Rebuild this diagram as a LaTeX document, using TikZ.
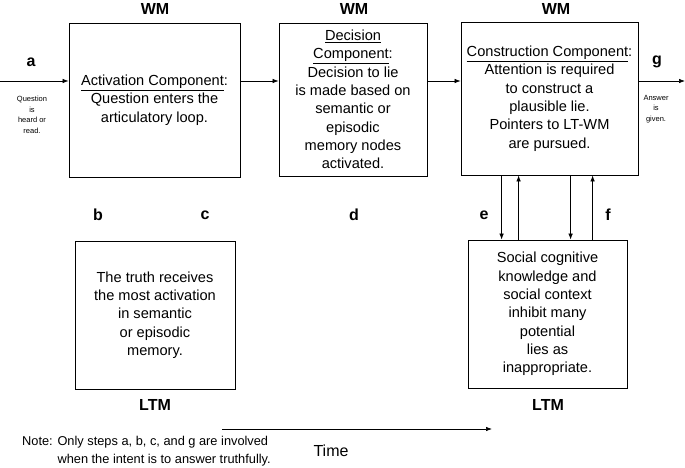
\documentclass[tikz,border=0pt]{standalone}
\usepackage{fontspec}
\setmainfont{Liberation Sans}
\usetikzlibrary{arrows.meta,positioning}

\begin{document}
\begin{tikzpicture}[
    x=1pt, y=1pt,
    box/.style={rectangle, draw, line width=0.8pt, inner sep=0pt, align=center, font=\fontsize{14.6}{18.3}\selectfont},
    tag/.style={font=\fontsize{16}{18}\selectfont\bfseries},
    tiny/.style={align=center, font=\fontsize{7.5}{10.5}\selectfont},
    arrow/.style={-{Latex[length=6pt,width=4.5pt]}, line width=0.7pt}
]
\useasboundingbox (0,0) rectangle (685,-468);

% Working memory row
\node[tag] (wm1) at (155,-9) {WM};
\node[tag] (wm2) at (354,-9) {WM};
\node[tag] (wm3) at (556,-9) {WM};
\node[box, minimum width=171pt, minimum height=154pt] (act) at (154.5,-100) {\underline{Activation Component}:\\Question enters the\\articulatory loop.};
\node[box, minimum width=148pt, minimum height=153pt] (dec) at (353,-99.5) {\underline{Decision}\\\underline{Component}:\\Decision to lie\\is made based on\\semantic or\\episodic\\memory nodes\\activated.};
\node[box, minimum width=177pt, minimum height=153pt] (cons) at (549.5,-98.5) {\underline{Construction Component}:\\Attention is required\\to construct a\\plausible lie.\\Pointers to LT-WM\\are pursued.};

% Input and output
\coordinate (in) at (0,-81);
\coordinate (out) at (685,-81);
\node[tag] (a) at (31,-62) {a};
\node[tiny] (heard) at (32,-115) {Question\\is\\heard or\\read.};
\node[tag] (g) at (657,-62) {g};
\node[tiny] (given) at (656,-109) {Answer\\is\\given.};
\draw[arrow] (in) -- (in -| act.west);
\draw[arrow] (act.east |- in) -- (dec.west |- in);
\draw[arrow] (dec.east |- in) -- (cons.west |- in);
\draw[arrow] (cons.east |- out) -- (out);

% Long-term memory row
\node[tag] (b) at (98,-215) {b};
\node[tag] (c) at (205,-215) {c};
\node[tag] (d) at (354,-215) {d};
\node[tag] (e) at (484,-215) {e};
\node[tag] (f) at (608,-215) {f};
\node[box, minimum width=160pt, minimum height=148pt] (truth) at (155,-315) {The truth receives\\the most activation\\in semantic\\or episodic\\memory.};
\node[box, minimum width=159pt, minimum height=148pt] (social) at (547.5,-314) {Social cognitive\\knowledge and\\social context\\inhibit many\\potential\\lies as\\inappropriate.};
\node[tag] (ltm1) at (155,-405) {LTM};
\node[tag] (ltm2) at (548,-405) {LTM};

% Links between construction and social knowledge
\draw[arrow] ([xshift=41pt]cons.south west) -- ([xshift=34pt]social.north west);
\draw[arrow] ([xshift=51pt]social.north west) -- ([xshift=58pt]cons.south west);
\draw[arrow] ([xshift=110pt]cons.south west) -- ([xshift=103pt]social.north west);
\draw[arrow] ([xshift=125pt]social.north west) -- ([xshift=132pt]cons.south west);

% Time axis and note
\coordinate (t0) at (222,-429);
\coordinate (t1) at (492,-429);
\draw[arrow] (t0) -- (t1);
\node[font=\fontsize{16}{18}\selectfont] (time) at (331,-451) {Time};
\node[anchor=north west, inner sep=0pt, font=\fontsize{12.8}{18}\selectfont] (note) at (22,-433) {\begin{tabular}{@{}l@{ }l}Note: & Only steps a, b, c, and g are involved\\ & when the intent is to answer truthfully.\end{tabular}};

\end{tikzpicture}
\end{document}
